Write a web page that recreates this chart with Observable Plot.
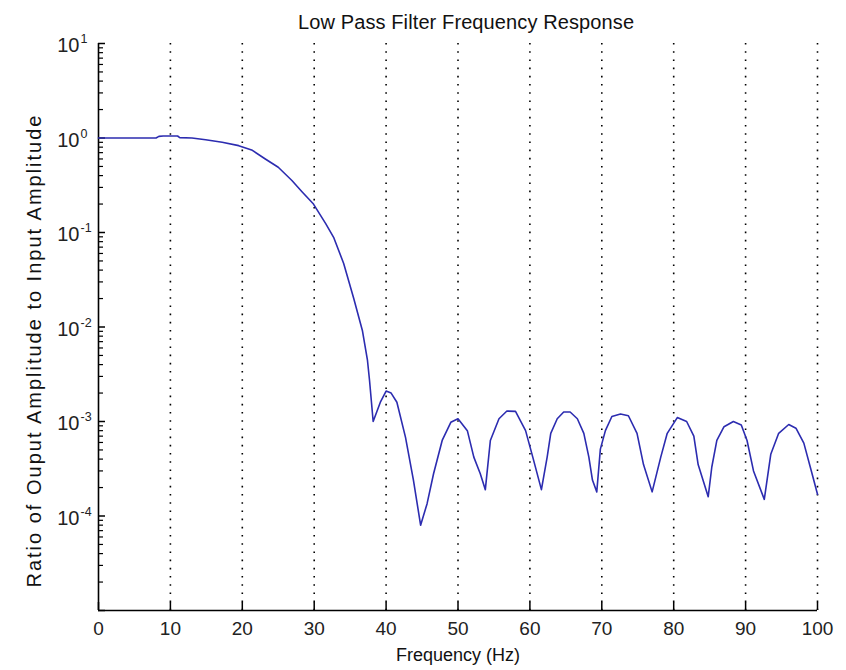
<!DOCTYPE html>
<html><head><meta charset="utf-8">
<script src="https://cdn.jsdelivr.net/npm/d3@7"></script>
<script src="https://cdn.jsdelivr.net/npm/@observablehq/plot@0.6"></script>
<style>body{margin:0;background:#fff} #chart svg{display:block}</style>
</head><body><div id="chart"></div>
<script>
const freq = [0,4,8,8.4,9,10,11,11.3,13,14.9,17.2,19.5,21.4,23.2,25,26.9,28.3,29.9,31.6,32.7,34.1,35.5,36.7,37.4,37.7,38.2,39.2,40,40.7,41.5,42.7,43.8,44.8,45.7,46.6,47.8,49,50,51.3,52.2,53.1,53.8,54.5,55.7,56.8,58,59.4,60.4,61.6,62.4,62.9,63.8,64.7,65.6,66.6,67.5,68.2,68.7,69.3,69.8,70.5,71.4,72.6,73.7,74.9,75.8,77,78.2,79.1,80.5,81.8,82.8,83.4,84.8,85.3,86,87,88.3,89.4,90.2,91.1,92.6,93.5,94.6,96,97,98.1,99.3,100];
const ratio = [1.0,1.0,1.0,1.04,1.05,1.05,1.05,1.01,1.0,0.96,0.9,0.83,0.74,0.6,0.49,0.355,0.27,0.2,0.124,0.089,0.047,0.02,0.0092,0.0045,0.0027,0.001,0.0016,0.0021,0.002,0.0016,0.00068,0.00024,0.00008,0.000135,0.00028,0.00063,0.00098,0.00107,0.0008,0.00042,0.00028,0.00019,0.00063,0.00107,0.00129,0.00128,0.0008,0.00042,0.00019,0.00042,0.00075,0.00107,0.00126,0.00126,0.00107,0.00075,0.00042,0.00024,0.00018,0.00051,0.0008,0.00113,0.0012,0.00115,0.00075,0.00035,0.00018,0.00042,0.00075,0.0011,0.001,0.0007,0.00035,0.00016,0.00033,0.00063,0.00088,0.001,0.00092,0.00063,0.0003,0.00015,0.00045,0.00075,0.00093,0.00085,0.00059,0.00027,0.00017];

const xTicks = [0,10,20,30,40,50,60,70,80,90,100];
const xGrid = [10,20,30,40,50,60,70,80,90,100];
const xTickLabels = ["0","10","20","30","40","50","60","70","80","90","100"];
const yMajor = [1e-5,1e-4,1e-3,1e-2,1e-1,1,10];
const yMinorMantissas = [2,3,4,5,6,7,8,9];
const yDecades = [1e-5,1e-4,1e-3,1e-2,1e-1,1];
const yMinor = yDecades.flatMap(d => yMinorMantissas.map(m => +(m*d).toPrecision(3)));
const yLabelTicks = [10,1,0.1,0.01,0.001,0.0001];
const yExponents = ["1","0","-1","-2","-3","-4"];

const titleText = "Low Pass Filter Frequency Response";
const xLabelText = "Frequency (Hz)";
const yLabelText = "Ratio of Ouput Amplitude to Input Amplitude";

const font = "'Liberation Sans', Arial, Helvetica, sans-serif";

const chart = Plot.plot({
  width: 846, height: 670,
  marginLeft: 98, marginRight: 29, marginTop: 43, marginBottom: 60,
  x: {domain: [0, 100]},
  y: {type: "log", domain: [1e-5, 10]},
  style: {fontFamily: font, background: "white", color: "black", overflow: "visible"},
  marks: [
    Plot.ruleX(xGrid, {stroke: "black", strokeWidth: 1.6, strokeDasharray: "1.6,6.6"}),
    Plot.axisX({ticks: xTicks, tickSize: -8, tickFormat: () => "", label: null, strokeWidth: 1.5}),
    Plot.axisY({ticks: yMajor, tickSize: -7, tickFormat: () => "", label: null, strokeWidth: 1.5}),
    Plot.axisY({ticks: yMinor, tickSize: -5, tickFormat: () => "", label: null, strokeWidth: 1.2}),
    Plot.ruleX([0], {stroke: "black", strokeWidth: 1.6}),
    Plot.ruleY([1e-5], {stroke: "black", strokeWidth: 1.6}),
    Plot.line(ratio, {x: freq, y: ratio, stroke: "#2c2cb0", strokeWidth: 1.6}),
    Plot.text(xTickLabels, {x: xTicks, text: xTickLabels, frameAnchor: "bottom", lineAnchor: "middle", dy: 18, fontSize: 19, fill: "#222", ariaLabel: "x-tick-label"}),
    Plot.text(yLabelTicks, {y: yLabelTicks, text: () => "10", frameAnchor: "left", lineAnchor: "middle", dx: -19, dy: 2.5, textAnchor: "end", fontSize: 20, fill: "#222"}),
    Plot.text(yExponents, {y: yLabelTicks, text: yExponents, frameAnchor: "left", lineAnchor: "middle", dx: -18, dy: -4.5, textAnchor: "start", fontSize: 12.5, fill: "#222"}),
    Plot.text([titleText], {text: d => d, frameAnchor: "top", lineAnchor: "middle", textAnchor: "middle", dx: 8, dy: -21, fontSize: 20, fill: "#111"}),
    Plot.text([xLabelText], {text: d => d, frameAnchor: "bottom", lineAnchor: "middle", textAnchor: "middle", dy: 45, fontSize: 18, fill: "#111"}),
    Plot.text([yLabelText], {text: d => d, frameAnchor: "left", lineAnchor: "middle", textAnchor: "middle", dx: -64, dy: 24.5, rotate: -90, fontSize: 20, fill: "#111"})
  ]
});
d3.select(chart).selectAll('g[aria-label="x-tick-label"] text').attr("transform", function() { return (this.getAttribute("transform") || "") + " scale(1,1.22)"; });
d3.select(chart).selectAll("text").each(function() {
  const t = this.textContent;
  if (t === yLabelText) d3.select(this).attr("textLength", 472).attr("lengthAdjust", "spacing");
  if (t === titleText) d3.select(this).attr("textLength", 336).attr("lengthAdjust", "spacing");
});
document.getElementById("chart").appendChild(chart);
</script>
</body></html>
